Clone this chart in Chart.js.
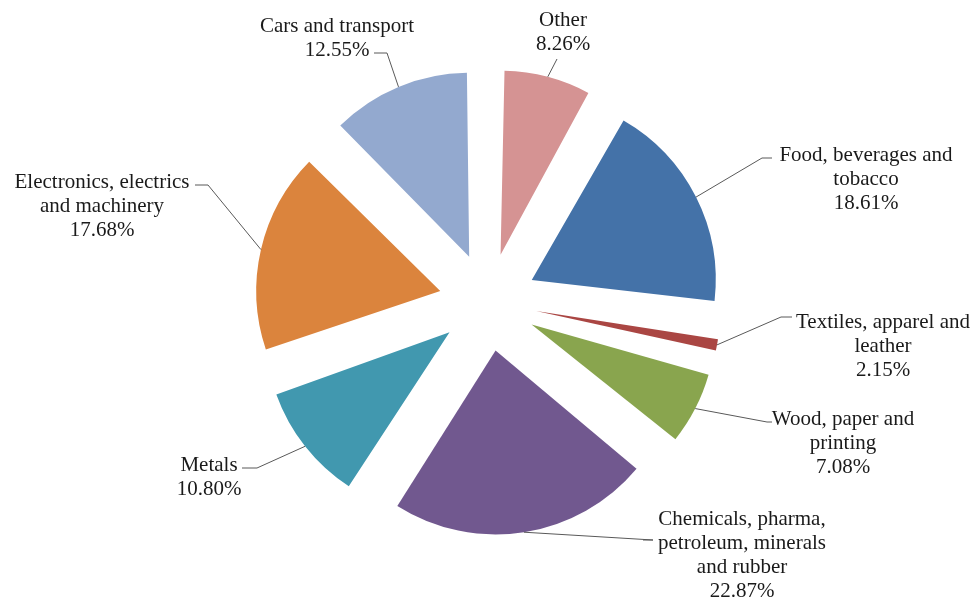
<!DOCTYPE html>
<html>
<head>
    <meta charset="UTF-8">
    <title>Pie</title>
    <script src="https://cdn.jsdelivr.net/npm/chart.js@4/dist/chart.umd.min.js"></script>
    <style>
        body { margin: 0; background: #fff; }
        #wrap { width: 975px; height: 601px; }
    </style>
</head>
<body>
    <div id="wrap"><canvas id="myChart" width="975" height="601"></canvas></div>
    <script>
        // slices, clockwise from 12 o'clock
        var labels = [
            ["Other"],
            ["Food, beverages and", "tobacco"],
            ["Textiles, apparel and", "leather"],
            ["Wood, paper and", "printing"],
            ["Chemicals, pharma,", "petroleum, minerals", "and rubber"],
            ["Metals"],
            ["Electronics, electrics", "and machinery"],
            ["Cars and transport"]
        ];
        var shares = [8.26, 18.61, 2.15, 7.08, 22.87, 10.80, 17.68, 12.55];
        var colors = ['#D59393', '#4472A8', '#AA4643', '#89A54E', '#71588F', '#4198AF', '#DB843D', '#93A9CF'];

        // label placement: text centre x, first line y, elbow point of leader, end of the short tick
        var labelX = [563, 866, 883, 843, 742, 209, 102, 337];
        var labelY = [20, 155, 322, 419, 519, 465, 182, 26];
        var elbowX = [557, 762, 781, 767, 653, 257, 208, 387];
        var elbowY = [59, 158, 317, 422, 540, 468, 185, 53];
        var elbowEnd = [557, 772, 792, 772, 643, 242, 195, 374];

        var RADIUS = 184;
        var EXPLODE = 49;   // px the slices move out
        var LINE_H = 24;

        // chart.js grows the radius of exploded narrow slices; take that back out
        const evenRadius = {
            id: 'evenRadius',
            beforeDatasetsDraw(chart) {
                chart.getDatasetMeta(0).data.forEach(arc => {
                    const c = arc.endAngle - arc.startAngle;
                    const fix = 1 - Math.sin(Math.min(Math.PI, c));
                    arc.outerRadius = RADIUS - EXPLODE * fix;
                });
            }
        };

        const labelPlugin = {
            id: 'pieLabels',
            afterDatasetsDraw(chart) {
                const ctx = chart.ctx;
                const meta = chart.getDatasetMeta(0);
                ctx.save();
                ctx.font = '21px "Liberation Serif", "Times New Roman", serif';
                ctx.textAlign = 'center';
                ctx.textBaseline = 'middle';
                meta.data.forEach((arc, i) => {
                    const mid = (arc.startAngle + arc.endAngle) / 2;
                    const r = RADIUS + EXPLODE;
                    const ax = arc.x + Math.cos(mid) * r;
                    const ay = arc.y + Math.sin(mid) * r;

                    ctx.strokeStyle = '#595959';
                    ctx.lineWidth = 1;
                    ctx.beginPath();
                    ctx.moveTo(ax, ay);
                    ctx.lineTo(elbowX[i], elbowY[i]);
                    ctx.lineTo(elbowEnd[i], elbowY[i]);
                    ctx.stroke();

                    ctx.fillStyle = '#1a1a1a';
                    const lines = labels[i].concat([shares[i].toFixed(2) + '%']);
                    lines.forEach((t, j) => {
                        ctx.fillText(t, labelX[i], labelY[i] + j * LINE_H);
                    });
                });
                ctx.restore();
            }
        };

        const data = {
            labels: labels.map(l => l.join(' ')),
            datasets: [{
                data: shares,
                backgroundColor: colors,
                borderWidth: 0,
                offset: EXPLODE * 4,
                radius: RADIUS
            }]
        };

        const config = {
            type: 'pie',
            data,
            options: {
                responsive: false,
                animation: false,
                layout: { padding: { left: 1, right: 0, top: 3, bottom: 0 } },
                plugins: {
                    legend: { display: false },
                    tooltip: { enabled: false }
                }
            },
            plugins: [evenRadius, labelPlugin]
        };

        var myChart = new Chart(document.getElementById('myChart'), config);
    </script>
</body>
</html>
